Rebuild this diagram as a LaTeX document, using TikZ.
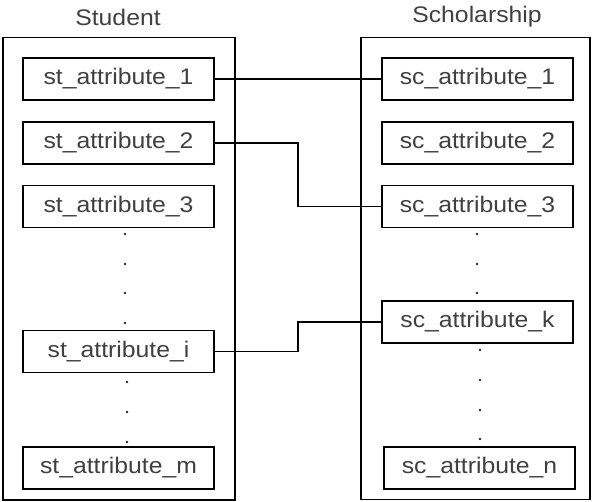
\documentclass[tikz,border=0pt]{standalone}
\usepackage{fontspec}
\usepackage{graphicx}
\setmainfont{Liberation Sans}
\newcommand{\lbl}[1]{\scalebox{1.1}[1]{#1}}
\begin{document}
\begin{tikzpicture}[x=1pt,y=-1pt,
  attbox/.style={draw=black, line width=1.6pt, minimum width=191pt, minimum height=42pt, inner sep=0pt,
    text=black!75, font=\fontsize{22.5}{26}\selectfont},
  ttl/.style={text=black!75, font=\fontsize{22.5}{26}\selectfont, inner sep=0pt},
  cont/.style={draw=black, line width=1.3pt},
  conn/.style={draw=black, line width=1.3pt},
  dotmark/.style={fill=black!85}]
\useasboundingbox (0,0) rectangle (593,502);
% containers
\draw[cont] (3,37.5) rectangle (235,500);
\draw[cont] (361,37.5) rectangle (590,499.5);
% titles
\node[ttl] (tst) at (118,17) {\lbl{Student}};
\node[ttl] (tsc) at (477,17) {\lbl{Scholarship}};
% student boxes
\node[attbox] (st1) at (118.5,79) {\lbl{st\_attribute\_1}};
\node[attbox] (st2) at (118.5,143) {\lbl{st\_attribute\_2}};
\node[attbox] (st3) at (118.5,206.5) {\lbl{st\_attribute\_3}};
\node[attbox] (sti) at (118.5,351.5) {\lbl{st\_attribute\_i}};
\node[attbox] (stm) at (118.5,468) {\lbl{st\_attribute\_m}};
% scholarship boxes
\node[attbox] (sc1) at (477.5,79) {\lbl{sc\_attribute\_1}};
\node[attbox] (sc2) at (477.5,143) {\lbl{sc\_attribute\_2}};
\node[attbox] (sc3) at (477.5,206.5) {\lbl{sc\_attribute\_3}};
\node[attbox] (sck) at (477.5,322) {\lbl{sc\_attribute\_k}};
\node[attbox] (scn) at (479.5,468) {\lbl{sc\_attribute\_n}};
% dots
\foreach \y in {234,264,293,323} \fill[dotmark] (125,\y) circle (1.3pt);
\foreach \y in {382,412,442} \fill[dotmark] (127,\y) circle (1.3pt);
\foreach \y in {234,264,293} \fill[dotmark] (477,\y) circle (1.3pt);
\foreach \y in {350,380,410,439} \fill[dotmark] (480,\y) circle (1.3pt);
% connectors
\coordinate (m2) at (298,143);
\coordinate (mi) at (298,351.5);
\draw[conn] (st1.east) -- (sc1.west);
\draw[conn] (st2.east) -- (m2) |- (sc3.west);
\draw[conn] (sti.east) -- (mi) |- (sck.west);
\end{tikzpicture}
\end{document}
